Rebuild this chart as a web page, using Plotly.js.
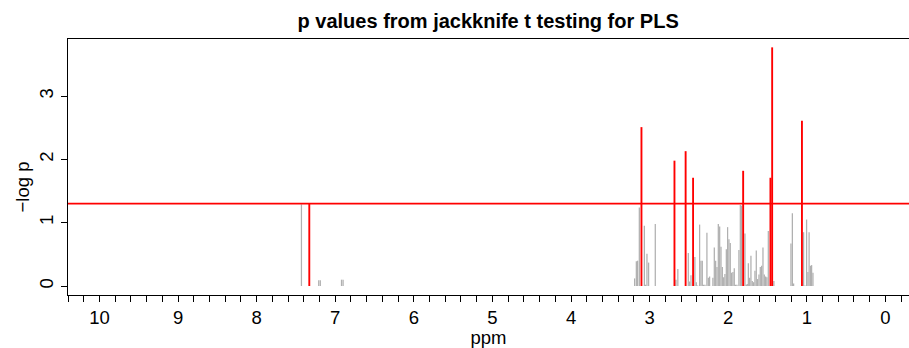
<!DOCTYPE html>
<html>
<head>
<meta charset="utf-8">
<script src="https://cdn.plot.ly/plotly-3.0.1.min.js"></script>
<style>html,body{margin:0;padding:0;background:#fff}#chart{width:909px;height:348px}</style>
</head>
<body>
<div id="chart"></div>
<script>
// ppm positions and -log p values of non-significant bins (gray)
const grayX = [7.43, 7.21, 7.19, 6.92, 6.90,
  3.191, 3.169, 3.153, 3.131, 3.067, 3.051, 3.034, 3.013, 2.928,
  2.665, 2.641, 2.508, 2.491, 2.474, 2.424, 2.406, 2.389, 2.364, 2.347, 2.330, 2.313, 2.296,
  2.271, 2.253, 2.237, 2.195, 2.177, 2.160, 2.143, 2.126, 2.109, 2.092, 2.075, 2.058, 2.042,
  2.024, 2.008, 1.991, 1.974, 1.957, 1.940, 1.923, 1.906, 1.889, 1.864, 1.846, 1.830,
  1.787, 1.770, 1.757, 1.744, 1.728, 1.711, 1.694, 1.677, 1.660, 1.643, 1.626, 1.609,
  1.592, 1.575, 1.558, 1.541, 1.524, 1.508, 1.490, 1.419,
  1.202, 1.184, 1.168, 1.041, 1.024, 1.003, 0.986, 0.971, 0.954, 0.939, 0.922];
const grayY = [1.29, 0.09, 0.09, 0.10, 0.10,
  0.12, 0.39, 0.40, 1.24, 0.95, 0.02, 0.51, 0.37, 0.98,
  0.10, 0.27, 0.52, 0.07, 0.17, 0.46, 0.06, 0.01, 0.97, 0.40, 0.40, 0.02, 0.02,
  0.84, 0.13, 0.15, 0.13, 0.61, 0.40, 0.30, 0.98, 0.94, 0.62, 0.30, 0.14, 0.19,
  0.58, 0.93, 0.74, 0.68, 0.21, 0.22, 0.28, 0.02, 0.02, 0.57, 1.28, 1.27,
  0.83, 0.02, 0.03, 0.36, 0.13, 0.48, 0.08, 0.06, 0.24, 0.56, 0.11, 0.18,
  0.30, 0.32, 0.61, 0.18, 0.15, 0.14, 0.87, 0.08,
  0.67, 1.15, 0.04, 0.85, 0.01, 1.05, 0.22, 0.85, 0.32, 0.33, 0.21];
// significant bins (red)
const redX = [7.33, 3.104, 2.684, 2.542, 2.447, 1.810, 1.463, 1.441, 1.062];
const redY = [1.31, 2.51, 1.98, 2.13, 1.71, 1.82, 1.71, 3.77, 2.61];
// significance threshold: -log10(0.05)
const threshold = 1.301;
const xTicks = [10, 9, 8, 7, 6, 5, 4, 3, 2, 1, 0];
const yTicks = [0, 1, 2, 3];

const font = 'Liberation Sans, Arial, Helvetica, sans-serif';
const fs = 18.5;

const traces = [
  {type: 'bar', x: grayX, y: grayY, width: 0.016, marker: {color: '#b0b0b0', line: {width: 0}}, hoverinfo: 'x+y'},
  {type: 'bar', x: redX, y: redY, width: 0.024, marker: {color: '#ff0000', line: {width: 0}}, hoverinfo: 'x+y'}
];

const layout = {
  width: 909, height: 348,
  margin: {l: 68, r: 0, t: 39, b: 53},
  paper_bgcolor: '#fff', plot_bgcolor: '#fff',
  showlegend: false,
  barmode: 'overlay',
  font: {family: font, size: fs, color: '#000'},
  title: {text: '<b>p values from jackknife t testing for PLS</b>', font: {family: font, size: 20, color: '#000'},
          x: 0.537, xanchor: 'center', yref: 'container', y: 1 - 21/348, yanchor: 'middle'},
  xaxis: {
    range: [10.40, -0.30], tickvals: xTicks, ticktext: xTicks.map(String),
    ticks: 'outside', ticklen: 6, tickwidth: 1, tickcolor: '#000',
    minor: {dtick: 0.2, ticks: 'outside', ticklen: 6, tickwidth: 1, tickcolor: '#000', showgrid: false},
    showline: true, linecolor: '#000', linewidth: 1.2, mirror: true,
    showgrid: false, zeroline: false,
    tickfont: {family: font, size: fs},
    title: {text: 'ppm', font: {family: font, size: fs}, standoff: 0}
  },
  yaxis: {
    range: [-0.142, 3.902], tickvals: yTicks, ticktext: yTicks.map(String),
    ticks: 'outside', ticklen: 6, tickwidth: 1, tickcolor: '#000', tickangle: -90,
    showline: true, linecolor: '#000', linewidth: 1.2, mirror: true,
    showgrid: false, zeroline: false,
    tickfont: {family: font, size: fs}
  },
  shapes: [{type: 'line', xref: 'paper', x0: 0, x1: 1, yref: 'y', y0: threshold, y1: threshold,
            line: {color: '#ff0000', width: 1.8}}],
  annotations: [{text: '\u2212log p', xref: 'paper', yref: 'paper', x: -46/841, y: (295-187.5)/256,
                 xanchor: 'center', yanchor: 'middle', textangle: -90, showarrow: false,
                 font: {family: font, size: fs, color: '#000'}}]
};

Plotly.newPlot('chart', traces, layout, {displayModeBar: false, staticPlot: true});
</script>
</body>
</html>
